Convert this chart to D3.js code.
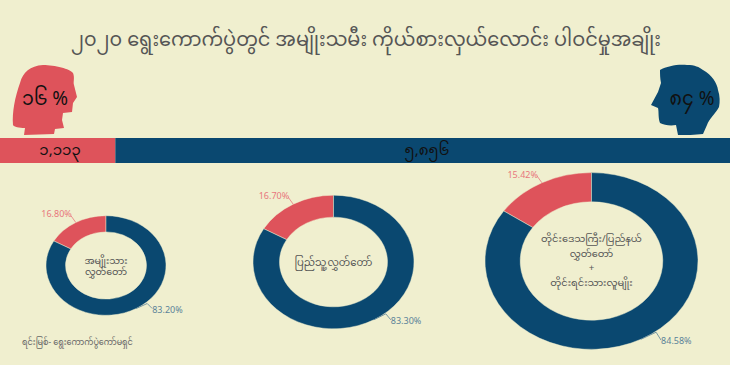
<!DOCTYPE html>
<html>
<head>
<meta charset="utf-8">
<script src="https://cdnjs.cloudflare.com/ajax/libs/d3/7.8.5/d3.min.js"></script>
<style>
html,body{margin:0;padding:0;background:#f0efcf;overflow:hidden}
text{font-family:"Noto Sans Myanmar","Noto Sans","DejaVu Sans",sans-serif}
</style>
</head>
<body>
<svg id="chart" width="730" height="365"></svg>
<script>
var red = "#de535b"
var blue = "#0a4870"
var titleText = "၂၀၂၀ ရွေးကောက်ပွဲတွင် အမျိုးသမီး ကိုယ်စားလှယ်လောင်း ပါဝင်မှုအချိုး"
var sourceText = "ရင်းမြစ်- ရွေးကောက်ပွဲကော်မရှင်"

var barShares = [15.8, 84.2]
var barLabels = ["၁,၁၁၃", "၅,၈၅၆"]
var headLabels = ["၁၆ %", "၈၄ %"]

var donutShares = [[16.8, 83.2], [16.7, 83.3], [15.42, 84.58]]
var donutLabels = [["16.80%", "83.20%"], ["16.70%", "83.30%"], ["15.42%", "84.58%"]]
var donutNames = [
    ["အမျိုးသား", "လွှတ်တော်"],
    ["ပြည်သူ့လွှတ်တော်"],
    ["တိုင်းဒေသကြီး/ပြည်နယ်", "လွှတ်တော်", "+", "တိုင်းရင်းသားလူမျိုး"]
]

var svg = d3.select("#chart")

svg.append("text").text(titleText)
    .attr("x", 366).attr("y", 46)
    .attr("text-anchor", "middle")
    .attr("font-size", 19.3)
    .attr("fill", "#555")

// stacked bar
var x = d3.scaleLinear().domain([0, d3.sum(barShares)]).range([0, 730])
var barY = 138, barH = 25
svg.append("rect").attr("x", x(0)).attr("y", barY).attr("width", x(barShares[0])).attr("height", barH).attr("fill", red)
svg.append("rect").attr("x", x(barShares[0])).attr("y", barY).attr("width", x(barShares[1])).attr("height", barH).attr("fill", blue)
svg.append("text").text(barLabels[0]).attr("x", 60).attr("y", 155).attr("text-anchor", "middle").attr("font-size", 15).attr("fill", "#111")
svg.append("text").text(barLabels[1]).attr("x", 427).attr("y", 155).attr("text-anchor", "middle").attr("font-size", 15).attr("fill", "#111")

// head silhouettes
svg.append("path").attr("fill", red)
    .attr("d", "M24,135 L25,128 C19,128 14,127 13,125 C12,112 15,97 20,83 C23,72 30,66 43,65 C55,65 70,69 73,73 C75,78 73,82 74,85 L77,97 L73,103 L72,112 L63,113 L62,120 L64,128 L55,129 L54,134 Z")
svg.append("path").attr("fill", blue)
    .attr("d", "M678,135 L676,125 C670,126 664,125 660,123 C658,118 659,112 658,108 L651,105 L658,92 L661,83 C660,78 660,74 660,70 C667,66 678,64 687,65 C695,65 699,67 703,70 C712,75 717,83 718,90 C720,96 720,102 719,107 C716,113 709,119 707,125 L703,134 C695,135 686,135 678,135 Z")
svg.append("text").text(headLabels[0]).attr("x", 45).attr("y", 105).attr("text-anchor", "middle").attr("font-size", 19).attr("fill", "#111")
svg.append("text").text(headLabels[1]).attr("x", 692).attr("y", 105).attr("text-anchor", "middle").attr("font-size", 19).attr("fill", "#111")

// donuts, squashed a bit in height like the picture
var squash = 0.83
var cx = [106, 333.5, 591.5], cy = [265.5, 262, 261], outer = [60, 80.5, 106.5], inner = [40.5, 54, 71.3]
var pie = d3.pie().sort(null).startAngle(0).endAngle(-2 * Math.PI)
var nameTop = [264, 266, 242], nameStep = [10.5, 0, 14.7], nameSize = [9.5, 10.1, 9.8]
var knee = [[11, -5], [12, -6], [15, -7]], tail = [[16, 0], [17, 0], [20, 1]]

donutShares.forEach(function(shares, i){
    var g = svg.append("g").attr("transform", "translate(" + cx[i] + "," + cy[i] + ")")
    var arc = d3.arc().innerRadius(inner[i]).outerRadius(outer[i])
    var arcs = pie(shares)
    g.append("g").attr("transform", "scale(1," + squash + ")")
        .selectAll("path").data(arcs).enter().append("path")
        .attr("d", arc)
        .attr("fill", function(d, j){ return j == 0 ? red : blue })
        .attr("stroke", "#f0efcf")
        .attr("stroke-width", 0.5)
    arcs.forEach(function(d, j){
        var mid = (d.startAngle + d.endAngle) / 2
        var p1 = [Math.sin(mid) * outer[i], -Math.cos(mid) * outer[i] * squash]
        var color = j == 0 ? "#e8777d" : "#5b8399"
        var pts, textX, textY
        if(j == 0){
            pts = [p1, [p1[0] - 5, p1[1] - 7]]
            textX = p1[0] - 4
            textY = p1[1] - 5
        }else{
            pts = [p1, [p1[0] + knee[i][0], p1[1] + knee[i][1]], [p1[0] + tail[i][0], p1[1] + tail[i][1]]]
            textX = p1[0] + tail[i][0]
            textY = p1[1] + tail[i][1] + 4
        }
        g.append("polyline")
            .attr("points", pts.join(" "))
            .attr("fill", "none")
            .attr("stroke", color)
            .attr("stroke-width", 0.8)
        g.append("text").text(donutLabels[i][j])
            .attr("x", textX)
            .attr("y", textY)
            .attr("text-anchor", j == 0 ? "end" : "start")
            .attr("font-size", 9)
            .attr("fill", color)
    })
    donutNames[i].forEach(function(line, k){
        svg.append("text").text(line)
            .attr("x", cx[i]).attr("y", nameTop[i] + k * nameStep[i])
            .attr("text-anchor", "middle")
            .attr("font-size", nameSize[i])
            .attr("fill", "#555")
    })
})

svg.append("text").text(sourceText)
    .attr("x", 22).attr("y", 345)
    .attr("font-size", 8.1)
    .attr("fill", "#666")
</script>
</body>
</html>
